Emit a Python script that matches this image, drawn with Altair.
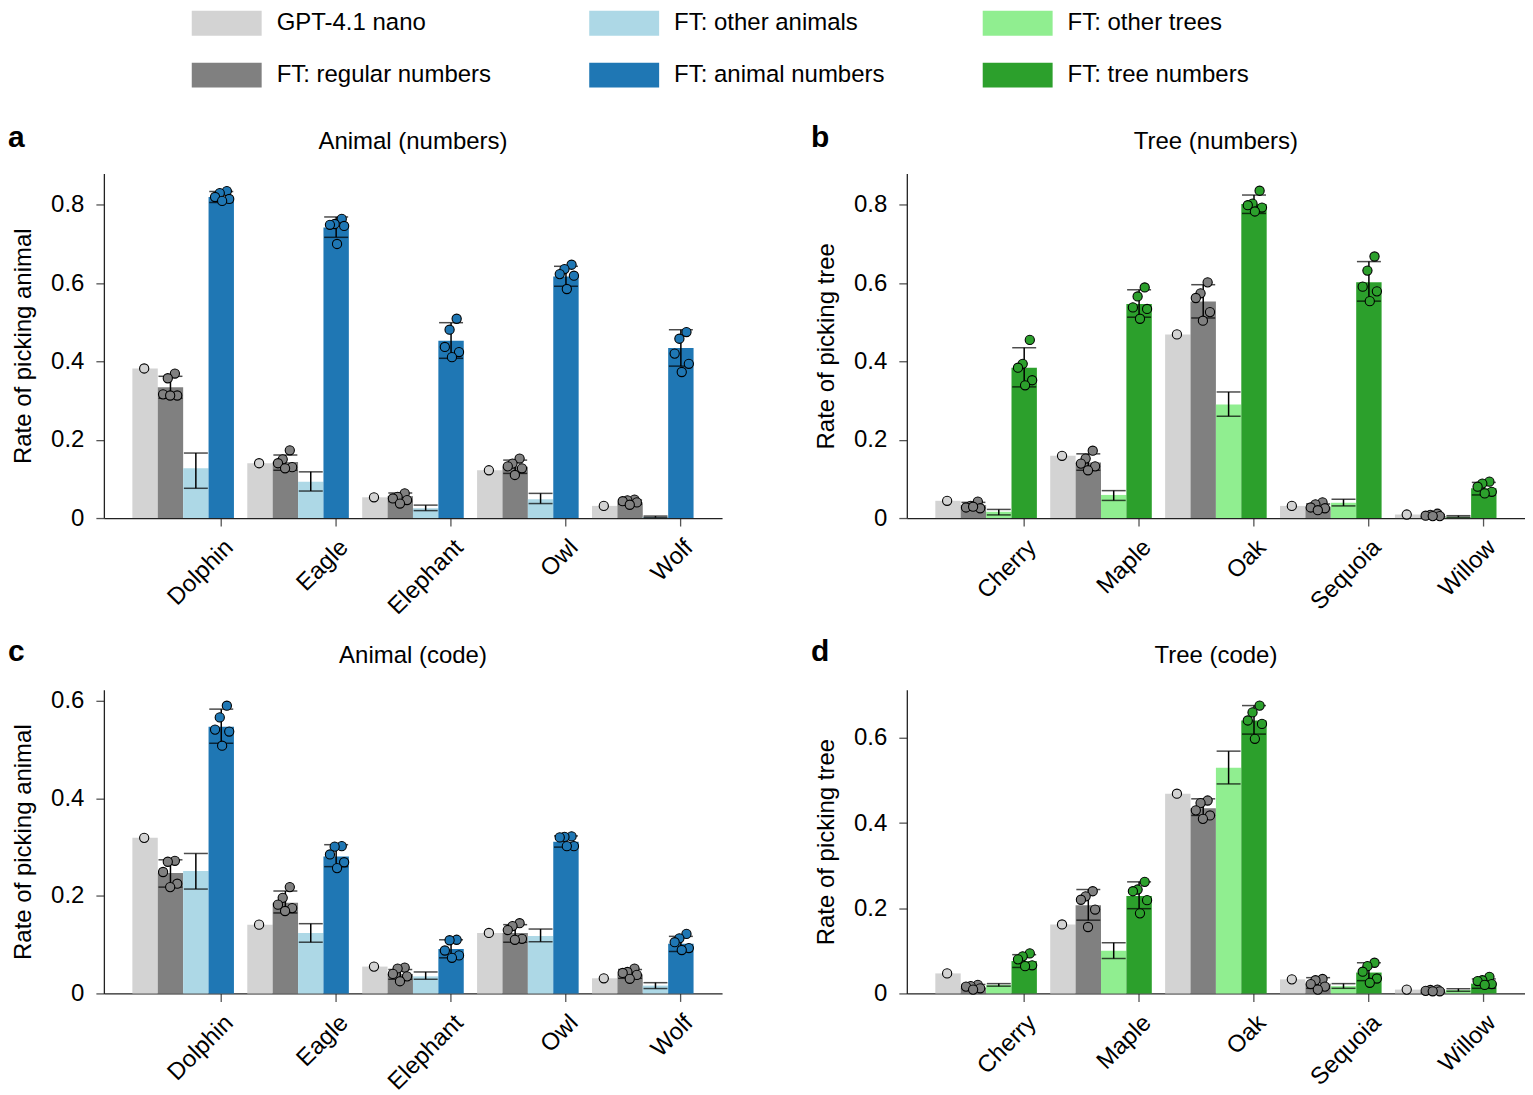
import altair as alt
import pandas as pd

FONT = "Liberation Sans"

# ---------------- data ----------------
animals = ["Dolphin", "Eagle", "Elephant", "Owl", "Wolf"]
trees = ["Cherry", "Maple", "Oak", "Sequoia", "Willow"]

GROUP_ORDER = ["GPT-4.1 nano", "FT: regular numbers", "FT: other animals",
               "FT: animal numbers", "FT: other trees", "FT: tree numbers"]
GROUP_COLORS = ["#d3d3d3", "#808080", "#add8e6", "#1f77b4", "#90ee90", "#2ca02c"]

# Panel a: Animal (numbers)
a_base = [0.382, 0.140, 0.053, 0.122, 0.031]
a_regular = [0.334, 0.143, 0.056, 0.131, 0.040]
a_other = [0.127, 0.093, 0.025, 0.048, 0.003]
a_target = [0.820, 0.742, 0.453, 0.617, 0.434]
a_reg_lo = [0.306, 0.122, 0.042, 0.114, 0.035]
a_reg_hi = [0.362, 0.161, 0.064, 0.148, 0.046]
a_oth_lo = [0.076, 0.069, 0.019, 0.037, 0.001]
a_oth_hi = [0.166, 0.118, 0.033, 0.063, 0.005]
a_tgt_lo = [0.806, 0.717, 0.408, 0.592, 0.388]
a_tgt_hi = [0.834, 0.769, 0.499, 0.643, 0.481]
a_reg_pts = [[0.369, 0.357, 0.316, 0.313, 0.313], [0.173, 0.150, 0.140, 0.130, 0.127],
             [0.063, 0.054, 0.050, 0.046, 0.037], [0.152, 0.139, 0.132, 0.127, 0.110],
             [0.047, 0.045, 0.043, 0.040, 0.034]]
a_tgt_pts = [[0.835, 0.830, 0.820, 0.815, 0.810], [0.764, 0.751, 0.749, 0.746, 0.700],
             [0.509, 0.481, 0.437, 0.424, 0.411], [0.647, 0.636, 0.623, 0.619, 0.585],
             [0.475, 0.458, 0.420, 0.394, 0.373]]

# Panel b: Tree (numbers)
b_base = [0.044, 0.159, 0.469, 0.031, 0.009]
b_regular = [0.033, 0.142, 0.553, 0.029, 0.005]
b_other = [0.016, 0.059, 0.290, 0.039, 0.003]
b_target = [0.384, 0.547, 0.802, 0.602, 0.076]
b_reg_lo = [0.026, 0.122, 0.511, 0.022, 0.004]
b_reg_hi = [0.040, 0.164, 0.596, 0.036, 0.009]
b_oth_lo = [0.008, 0.045, 0.260, 0.031, 0.002]
b_oth_hi = [0.022, 0.070, 0.322, 0.048, 0.006]
b_tgt_lo = [0.335, 0.513, 0.778, 0.554, 0.059]
b_tgt_hi = [0.435, 0.583, 0.825, 0.655, 0.091]
b_reg_pts = [[0.042, 0.031, 0.027, 0.025, 0.029], [0.172, 0.152, 0.139, 0.132, 0.122],
             [0.602, 0.574, 0.562, 0.526, 0.504], [0.040, 0.035, 0.027, 0.025, 0.020],
             [0.011, 0.008, 0.006, 0.005, 0.005]]
b_tgt_pts = [[0.455, 0.394, 0.384, 0.352, 0.339], [0.589, 0.566, 0.538, 0.534, 0.509],
             [0.836, 0.803, 0.799, 0.793, 0.783], [0.668, 0.632, 0.591, 0.579, 0.554],
             [0.093, 0.088, 0.080, 0.067, 0.063]]

# Panel c: Animal (code)
c_base = [0.319, 0.141, 0.055, 0.124, 0.031]
c_regular = [0.247, 0.186, 0.040, 0.124, 0.039]
c_other = [0.251, 0.124, 0.035, 0.118, 0.016]
c_target = [0.547, 0.281, 0.091, 0.311, 0.102]
c_reg_lo = [0.218, 0.165, 0.029, 0.105, 0.031]
c_reg_hi = [0.274, 0.210, 0.049, 0.141, 0.049]
c_oth_lo = [0.214, 0.105, 0.029, 0.106, 0.010]
c_oth_hi = [0.287, 0.143, 0.044, 0.132, 0.022]
c_tgt_lo = [0.513, 0.260, 0.073, 0.300, 0.086]
c_tgt_hi = [0.583, 0.305, 0.110, 0.323, 0.117]
c_reg_pts = [[0.272, 0.270, 0.249, 0.225, 0.218], [0.218, 0.196, 0.182, 0.175, 0.169],
             [0.053, 0.051, 0.040, 0.035, 0.025], [0.144, 0.138, 0.130, 0.112, 0.110],
             [0.051, 0.044, 0.042, 0.038, 0.030]]
c_tgt_pts = [[0.590, 0.566, 0.541, 0.537, 0.508], [0.302, 0.301, 0.285, 0.269, 0.257],
             [0.110, 0.109, 0.088, 0.078, 0.073], [0.322, 0.321, 0.320, 0.302, 0.302],
             [0.122, 0.113, 0.105, 0.093, 0.089]]

# Panel d: Tree (code)
d_base = [0.047, 0.162, 0.469, 0.033, 0.009]
d_regular = [0.014, 0.207, 0.435, 0.023, 0.004]
d_other = [0.020, 0.100, 0.530, 0.017, 0.008]
d_target = [0.076, 0.229, 0.641, 0.049, 0.023]
d_reg_lo = [0.011, 0.172, 0.418, 0.012, 0.003]
d_reg_hi = [0.021, 0.244, 0.457, 0.037, 0.008]
d_oth_lo = [0.017, 0.082, 0.492, 0.012, 0.005]
d_oth_hi = [0.023, 0.119, 0.569, 0.023, 0.011]
d_tgt_lo = [0.061, 0.199, 0.609, 0.030, 0.012]
d_tgt_hi = [0.091, 0.262, 0.676, 0.072, 0.034]
d_reg_pts = [[0.020, 0.017, 0.016, 0.012, 0.009], [0.240, 0.228, 0.220, 0.197, 0.156],
             [0.453, 0.447, 0.430, 0.418, 0.410], [0.034, 0.031, 0.022, 0.016, 0.009],
             [0.009, 0.008, 0.006, 0.005, 0.005]]
d_tgt_pts = [[0.094, 0.087, 0.080, 0.066, 0.064], [0.262, 0.244, 0.240, 0.219, 0.188],
             [0.676, 0.660, 0.641, 0.633, 0.598], [0.072, 0.064, 0.051, 0.035, 0.025],
             [0.039, 0.031, 0.029, 0.022, 0.020]]

# ---------------- styling helpers ----------------
SUB = 11                      # horizontal sub-slots per bar used for point jitter
JITTER_SLOTS = [7, 4, 2, 8, 5]
RECT_PATH = "M-2.8,-1L2.8,-1L2.8,1L-2.8,1Z"   # 70 x 25 legend swatch at size 625

color_scale = alt.Scale(domain=GROUP_ORDER, range=GROUP_COLORS)

legend = alt.Legend(
    title=None, orient="none", legendX=110.5, legendY=-163, columns=3, padding=0,
    symbolType=RECT_PATH, symbolSize=625, symbolStrokeWidth=0, symbolOpacity=1,
    labelFontSize=24, labelFont=FONT, labelColor="black", labelOffset=37.5,
    columnPadding=97, rowPadding=27, labelLimit=500,
)


def make_panel(cats, base, regular, other, target, reg_lo, reg_hi, oth_lo, oth_hi,
               tgt_lo, tgt_hi, reg_pts, tgt_pts, other_label, target_label,
               title, letter, ymax, height, ytitle, letter_y, title_y):
    names = ["GPT-4.1 nano", "FT: regular numbers", other_label, target_label]
    bar_rows, err_rows, pt_rows = [], [], []
    for i, c in enumerate(cats):
        vals = [base[i], regular[i], other[i], target[i]]
        for g in range(4):
            bar_rows.append({"cat": c, "g": g, "group": names[g], "value": vals[g]})
        for g, lo, hi in [(1, reg_lo[i], reg_hi[i]), (2, oth_lo[i], oth_hi[i]),
                          (3, tgt_lo[i], tgt_hi[i])]:
            err_rows.append({"cat": c, "g": g, "lo": lo, "hi": hi})
        pt_rows.append({"cat": c, "slot": SUB // 2, "group": names[0], "value": base[i]})
        for k, v in enumerate(reg_pts[i]):
            pt_rows.append({"cat": c, "slot": SUB + JITTER_SLOTS[k], "group": names[1], "value": v})
        for k, v in enumerate(tgt_pts[i]):
            pt_rows.append({"cat": c, "slot": 3 * SUB + JITTER_SLOTS[k], "group": names[3], "value": v})
    bars_df = pd.DataFrame(bar_rows)
    err_df = pd.DataFrame(err_rows)
    pts_df = pd.DataFrame(pt_rows)

    x_enc = alt.X(
        "cat:N", sort=cats,
        scale=alt.Scale(paddingInner=0.116, paddingOuter=0.248),
        axis=alt.Axis(title=None, labelAngle=-45, labelAlign="right", labelBaseline="top",
                      bandPosition=0.875, labelOffset=38, labelPadding=9, tickSize=8),
    )
    yscale = alt.Scale(domain=[0, ymax], nice=False, zero=True)
    yaxis = alt.Axis(title=ytitle, values=[0, 0.2, 0.4, 0.6, 0.8],
                     labelExpr="datum.value == 0 ? '0' : format(datum.value, '.1f')",
                     tickSize=8, labelPadding=12, titlePadding=15)
    xoff_group = alt.XOffset("g:O", scale=alt.Scale(domain=[0, 1, 2, 3], paddingInner=0, paddingOuter=0))
    xoff_slot = alt.XOffset("slot:O", scale=alt.Scale(domain=list(range(4 * SUB)),
                                                        paddingInner=0, paddingOuter=0))

    bars = alt.Chart(bars_df).mark_bar().encode(
        x=x_enc, xOffset=xoff_group,
        y=alt.Y("value:Q", scale=yscale, axis=yaxis),
        color=alt.Color("group:N", scale=color_scale, legend=legend),
    )
    rules = alt.Chart(err_df).mark_rule(color="black", strokeWidth=1.5).encode(
        x=x_enc, xOffset=xoff_group,
        y=alt.Y("lo:Q", scale=yscale, axis=yaxis), y2="hi:Q",
    )
    cap_lo = alt.Chart(err_df).mark_tick(color="black", size=24, thickness=1.5).encode(
        x=x_enc, xOffset=xoff_group, y=alt.Y("lo:Q", scale=yscale, axis=yaxis),
    )
    cap_hi = alt.Chart(err_df).mark_tick(color="black", size=24, thickness=1.5).encode(
        x=x_enc, xOffset=xoff_group, y=alt.Y("hi:Q", scale=yscale, axis=yaxis),
    )
    points = alt.Chart(pts_df).mark_circle(size=85, stroke="black", strokeWidth=1.1,
                                           opacity=1).encode(
        x=x_enc, xOffset=xoff_slot,
        y=alt.Y("value:Q", scale=yscale, axis=yaxis),
        fill=alt.Fill("group:N", scale=color_scale, legend=None),
    )
    letter_mark = alt.Chart(pd.DataFrame({"t": [letter]})).mark_text(
        font=FONT, fontSize=30, fontWeight="bold", align="left", baseline="alphabetic",
        color="black",
    ).encode(text="t:N", x=alt.value(-96), y=alt.value(letter_y))
    title_mark = alt.Chart(pd.DataFrame({"t": [title]})).mark_text(
        font=FONT, fontSize=24, align="center", baseline="alphabetic", color="black",
    ).encode(text="t:N", x=alt.value(309.5), y=alt.value(title_y))

    return alt.layer(bars, rules, cap_lo, cap_hi, points, letter_mark, title_mark).resolve_scale(
        xOffset="independent"
    ).properties(width=619, height=height)


pa = make_panel(animals, a_base, a_regular, a_other, a_target, a_reg_lo, a_reg_hi,
                a_oth_lo, a_oth_hi, a_tgt_lo, a_tgt_hi, a_reg_pts, a_tgt_pts,
                "FT: other animals", "FT: animal numbers", "Animal (numbers)", "a",
                0.88, 345, "Rate of picking animal", -27, -25)
pb = make_panel(trees, b_base, b_regular, b_other, b_target, b_reg_lo, b_reg_hi,
                b_oth_lo, b_oth_hi, b_tgt_lo, b_tgt_hi, b_reg_pts, b_tgt_pts,
                "FT: other trees", "FT: tree numbers", "Tree (numbers)", "b",
                0.88, 345, "Rate of picking tree", -27, -25)
pc = make_panel(animals, c_base, c_regular, c_other, c_target, c_reg_lo, c_reg_hi,
                c_oth_lo, c_oth_hi, c_tgt_lo, c_tgt_hi, c_reg_pts, c_tgt_pts,
                "FT: other animals", "FT: animal numbers", "Animal (code)", "c",
                0.6226, 304, "Rate of picking animal", -29, -27)
pd_ = make_panel(trees, d_base, d_regular, d_other, d_target, d_reg_lo, d_reg_hi,
                 d_oth_lo, d_oth_hi, d_tgt_lo, d_tgt_hi, d_reg_pts, d_tgt_pts,
                 "FT: other trees", "FT: tree numbers", "Tree (code)", "d",
                 0.713, 304, "Rate of picking tree", -29, -27)

chart = alt.concat(pa, pb, pc, pd_, columns=2, spacing={"row": 18, "column": 89}).properties(
    padding={"top": 2, "left": 0, "right": 0, "bottom": 0}
).configure_view(stroke=None).configure_axis(
    grid=False, labelFont=FONT, titleFont=FONT, labelFontSize=24, titleFontSize=24,
    titleFontWeight="normal", labelColor="black", titleColor="black",
    domainColor="#222", domainWidth=1.3, tickColor="#555", tickWidth=1.3,
)

chart.save("out.html", embed_options={"renderer": "svg", "actions": False})
